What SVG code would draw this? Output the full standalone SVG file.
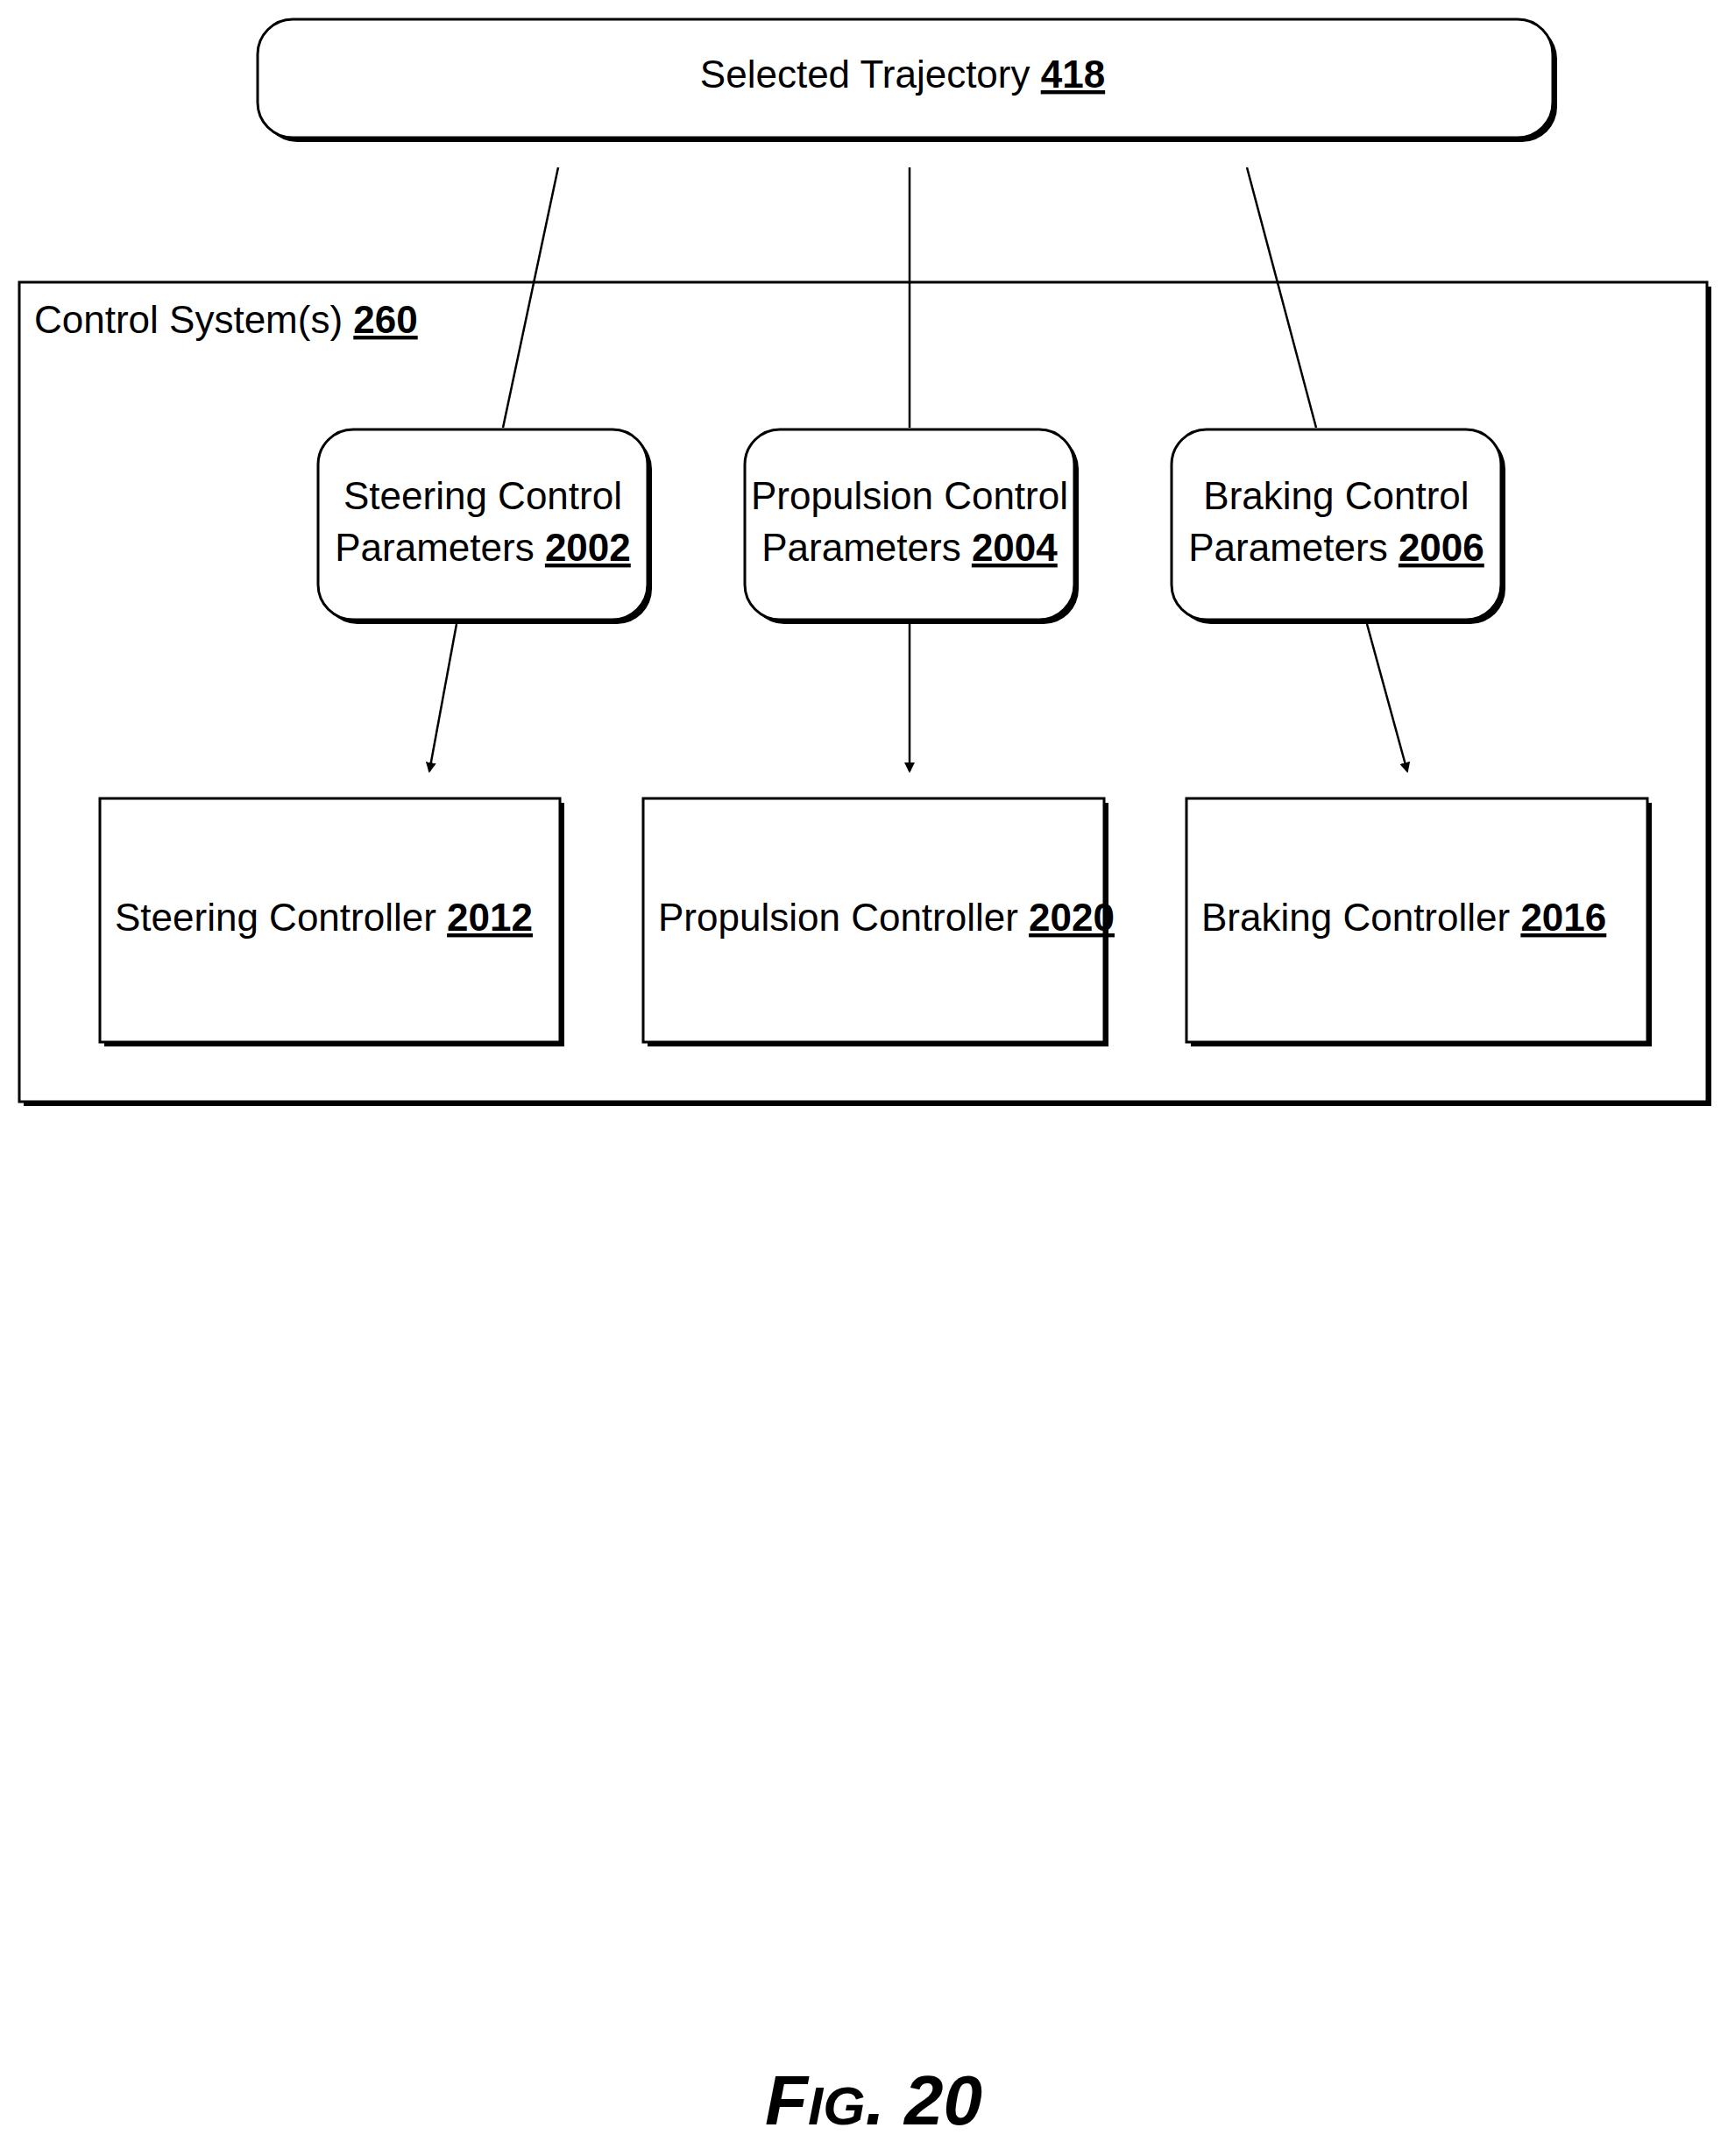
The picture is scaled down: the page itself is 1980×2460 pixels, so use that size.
<svg xmlns="http://www.w3.org/2000/svg" width="1980" height="2460" viewBox="0 0 1980 2460">
<style>
text{font-family:"Liberation Sans Narrow","Liberation Sans",Arial,sans-serif;font-size:44px;fill:#000}
.b{font-weight:bold;text-decoration:underline}
.box{fill:#fff;stroke:#000;stroke-width:3}
.sh{fill:#000}
.ln{stroke:#000;stroke-width:2.5;fill:none}
</style>
<defs><marker id="ar" markerWidth="12" markerHeight="12" refX="10" refY="6" orient="auto" markerUnits="userSpaceOnUse" viewBox="0 0 12 12"><path d="M0,0 L12,6 L0,12 Z" fill="#000"/></marker></defs>
<rect width="1980" height="2460" fill="#fff"/>
<g id="outer"><rect class="sh" x="27" y="327" width="1926" height="935"/><rect class="box" x="22" y="322" width="1926" height="935"/>
<text x="39" y="380">Control System(s) <tspan class="b">260</tspan></text></g>
<g id="traj"><rect class="sh" x="299" y="27" width="1478" height="135" rx="40"/><rect class="box" x="294" y="22" width="1478" height="135" rx="40"/>
<text x="1030" y="100" text-anchor="middle">Selected Trajectory <tspan class="b">418</tspan></text></g>
<g id="p2002"><rect class="sh" x="368" y="495" width="376" height="217" rx="40"/><rect class="box" x="363" y="490" width="376" height="217" rx="40"/>
<text x="551" y="581" text-anchor="middle">Steering Control</text><text x="551" y="640" text-anchor="middle">Parameters <tspan class="b">2002</tspan></text></g>
<g id="p2004"><rect class="sh" x="855" y="495" width="376" height="217" rx="40"/><rect class="box" x="850" y="490" width="376" height="217" rx="40"/>
<text x="1038" y="581" text-anchor="middle">Propulsion Control</text><text x="1038" y="640" text-anchor="middle">Parameters <tspan class="b">2004</tspan></text></g>
<g id="p2006"><rect class="sh" x="1342" y="495" width="376" height="217" rx="40"/><rect class="box" x="1337" y="490" width="376" height="217" rx="40"/>
<text x="1525" y="581" text-anchor="middle">Braking Control</text><text x="1525" y="640" text-anchor="middle">Parameters <tspan class="b">2006</tspan></text></g>
<g id="c2012"><rect class="sh" x="119" y="916" width="525" height="278"/><rect class="box" x="114" y="911" width="525" height="278"/>
<text x="131" y="1062">Steering Controller <tspan class="b">2012</tspan></text></g>
<g id="c2020"><rect class="sh" x="739" y="916" width="526" height="278"/><rect class="box" x="734" y="911" width="526" height="278"/>
<text x="751" y="1062">Propulsion Controller <tspan class="b">2020</tspan></text></g>
<g id="c2016"><rect class="sh" x="1359" y="916" width="526" height="278"/><rect class="box" x="1354" y="911" width="526" height="278"/>
<text x="1371" y="1062">Braking Controller <tspan class="b">2016</tspan></text></g>
<g id="connectors">
<line class="ln" x1="637" y1="191" x2="574" y2="488"/>
<line class="ln" x1="1038" y1="191" x2="1038" y2="488"/>
<line class="ln" x1="1423" y1="191" x2="1502" y2="488"/>
<line class="ln" x1="521" y1="712" x2="490" y2="880" marker-end="url(#ar)"/>
<line class="ln" x1="1038" y1="712" x2="1038" y2="880" marker-end="url(#ar)"/>
<line class="ln" x1="1560" y1="712" x2="1606" y2="880" marker-end="url(#ar)"/>
</g>
<text x="997" y="2424" text-anchor="middle" style="font-family:'Liberation Sans',Arial,sans-serif;font-style:italic;font-weight:bold;font-size:80px">F<tspan style="font-size:62px">IG</tspan>. 20</text>
</svg>
